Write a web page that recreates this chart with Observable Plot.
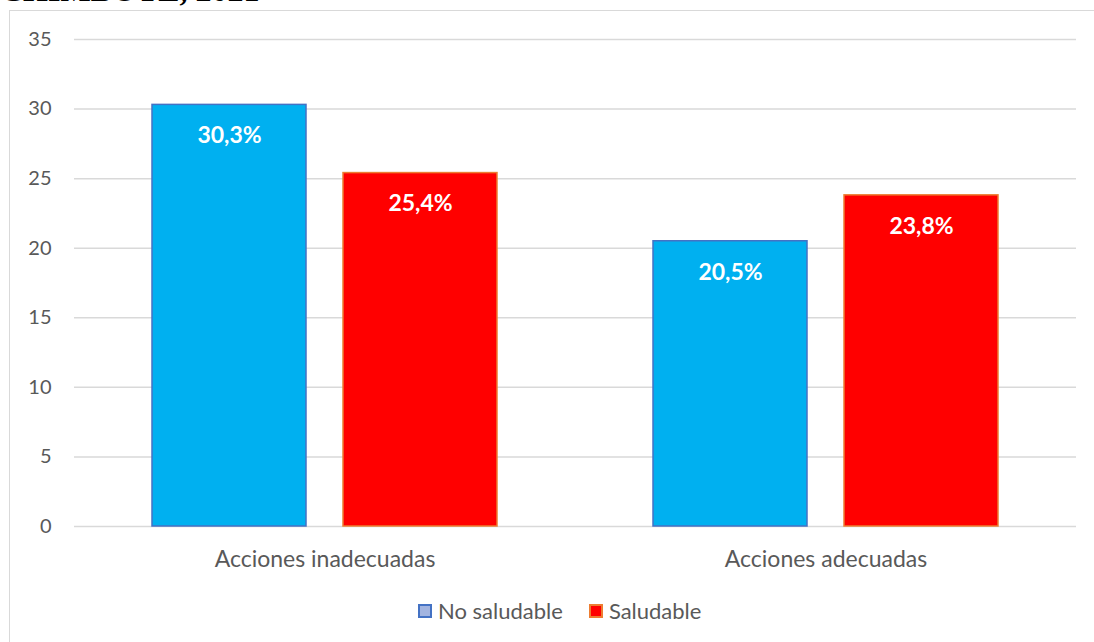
<!DOCTYPE html>
<html>
<head>
<meta charset="utf-8">
<script src="https://cdn.jsdelivr.net/npm/d3@7"></script>
<script src="https://cdn.jsdelivr.net/npm/@observablehq/plot@0.6"></script>
<style>
  html, body { margin: 0; padding: 0; background: #fff; overflow: hidden; width: 1094px; height: 642px; }
  #frame { position: absolute; left: 9px; top: 10px; width: 1200px; height: 700px; border: 1px solid #d9d9d9; box-sizing: border-box; }
  #title { position: absolute; left: 0; top: -26px; font-family: "Liberation Serif", "Times New Roman", serif; font-weight: bold; font-size: 32px; line-height: 32px; color: #000; white-space: nowrap; }
  #chart { position: absolute; left: 0; top: 0; }
  #legend { position: absolute; left: 418px; top: 600px; height: 22px; display: flex; align-items: center; font-family: Lato, sans-serif; font-size: 22px; line-height: 22px; color: #595959; }
  .sw { width: 14px; height: 14px; box-sizing: border-box; border: 2px solid; margin-right: 6px; }
</style>
</head>
<body>
<div id="frame"></div>
<div id="title">CHIMBOTE, 2021</div>
<div id="chart"></div>
<div id="legend"></div>
<script>
const categories = ["Acciones inadecuadas", "Acciones adecuadas"];
const series = ["No saludable", "Saludable"];
const noSaludable = [30.3, 20.5];
const saludable = [25.4, 23.8];
const yTicks = [0, 5, 10, 15, 20, 25, 30, 35];

const fills = {"No saludable": "#00B0F0", "Saludable": "#FF0000"};
const strokes = {"No saludable": "#4472C4", "Saludable": "#ED7D31"};
const legendFills = {"No saludable": "#A2B4E0", "Saludable": "#FF0000"};

const data = [];
categories.forEach((c, i) => {
  data.push({cat: c, s: series[0], v: noSaludable[i]});
  data.push({cat: c, s: series[1], v: saludable[i]});
});
const fmt = v => v.toFixed(1).replace(".", ",") + "%";

const chart = Plot.plot({
  width: 1094,
  height: 580,
  marginLeft: 73,
  marginRight: 18,
  marginTop: 39,
  marginBottom: 54,
  style: {background: "none", fontFamily: "Lato, sans-serif", overflow: "visible"},
  fx: {domain: categories, padding: 0, label: null, axis: null},
  x: {domain: series, axis: null, paddingInner: 0.193, paddingOuter: 0.4025},
  y: {domain: [0, 35], label: null, axis: null},
  marks: [
    Plot.gridY(yTicks, {stroke: "#d9d9d9", strokeOpacity: 1, strokeWidth: 1.5}),
    Plot.axisY(yTicks, {tickSize: 0, tickPadding: 23, fontSize: 20, fill: "#595959", label: null}),
    Plot.axisFx({anchor: "bottom", tickSize: 0, tickPadding: 24, fontSize: 23, fill: "#595959", label: null}),
    Plot.barY(data, {fx: "cat", x: "s", y: "v", fill: d => fills[d.s], stroke: d => strokes[d.s], strokeWidth: 1.5}),
    Plot.text(data, {fx: "cat", x: "s", y: "v", text: d => fmt(d.v), dy: 31, fill: "white", fontWeight: "bold", fontSize: 23})
  ]
});
document.getElementById("chart").appendChild(chart);

const legend = document.getElementById("legend");
series.forEach((s, i) => {
  const sw = document.createElement("div");
  sw.className = "sw";
  sw.style.background = legendFills[s];
  sw.style.borderColor = strokes[s];
  if (i > 0) sw.style.marginLeft = "26px";
  const t = document.createElement("span");
  t.textContent = s;
  legend.appendChild(sw);
  legend.appendChild(t);
});
</script>
</body>
</html>
